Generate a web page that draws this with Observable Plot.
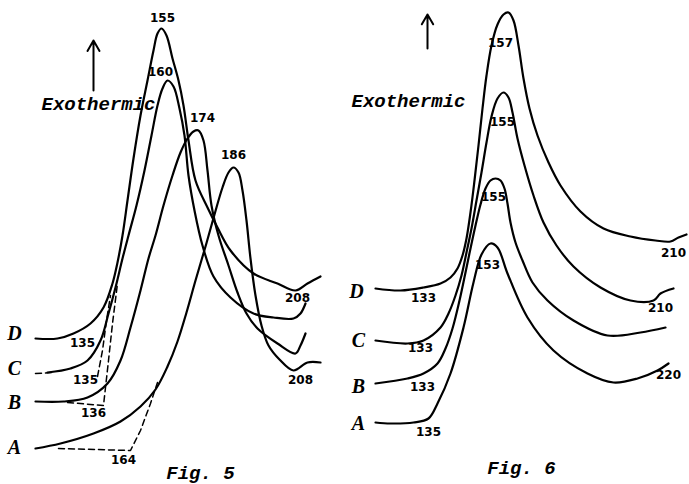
<!DOCTYPE html>
<html>
<head>
<meta charset="utf-8">
<script src="https://cdn.jsdelivr.net/npm/d3@7"></script>
<script src="https://cdn.jsdelivr.net/npm/@observablehq/plot@0.6"></script>
<style>
html,body{margin:0;padding:0;background:#fff;}
#chart svg{display:block;background:#fff;}
</style>
</head>
<body>
<div id="chart"></div>
<script>
// ---- Fig. 5 thermograms (horizontal: trace units, vertical: deflection units, downward positive) ----
const fig5D = [[35,338],[57,338],[73,333],[90,323],[103,307],[112,283],[117,262],[122,235],[127,200],[133,158],[140,115],[147,80],[153,50],[157,33],[161,28],[166,35],[172,58],[178,80],[183,105],[188,140],[195,180],[207,207],[217,227],[230,250],[253,273],[277,283],[295,290],[307,283],[320,276]];
const fig5C = [[47,372],[70,368],[87,360],[100,340],[108,313],[115,287],[122,258],[128,235],[136,205],[144,170],[151,135],[157,105],[162,88],[167,80],[173,86],[179,108],[184,135],[188,175],[194,210],[202,245],[213,276],[230,297],[253,313],[273,317],[293,318],[300,313],[305,303]];
const fig5B = [[35,401],[63,401],[87,397],[107,383],[120,360],[130,327],[140,290],[148,258],[155,235],[163,205],[172,175],[180,152],[187,138],[193,131],[198,130],[203,140],[207,170],[211,205],[218,235],[228,265],[237,292],[246,313],[257,328],[277,343],[295,353],[300,345],[305,333]];
const fig5A = [[35,448],[60,443],[93,433],[120,421],[140,406],[155,389],[167,366],[177,341],[186,312],[195,280],[205,246],[214,214],[222,187],[228,172],[233,167],[238,172],[242,190],[246,220],[250,258],[255,295],[261,325],[268,345],[279,359],[293,370],[307,362],[320,362]];
const fig5Adash = [[58,448],[130,450],[140,430],[150,403],[157,382]];
const fig5Bdash = [[67,402],[103,405],[105,387],[108,360],[112,323],[117,283]];
const fig5Cdash = [[35,373],[53,372]];
const fig5Cdash2 = [[97,376],[102,350],[106,320],[110,295]];

// ---- Fig. 6 thermograms ----
const fig6D = [[375,288],[400,290],[423,287],[440,283],[450,277],[457,268],[462,255],[466,238],[470,212],[474,180],[478,145],[482,108],[486,75],[491,45],[497,24],[503,14],[508,12],[513,20],[518,45],[523,78],[529,108],[537,135],[548,162],[560,185],[580,211],[603,228],[630,236],[655,240],[670,241],[678,237],[686,234]];
const fig6C = [[375,340],[407,343],[423,340],[440,327],[448,313],[455,295],[461,275],[466,252],[471,228],[476,200],[481,172],[486,142],[491,116],[497,98],[503,92],[508,97],[512,112],[517,138],[524,165],[533,195],[543,222],[556,245],[573,266],[600,287],[630,300],[653,300],[660,293],[673,288]];
const fig6B = [[375,383],[407,378],[423,373],[437,363],[445,348],[452,328],[459,300],[465,272],[470,248],[475,225],[480,204],[485,188],[490,180],[495,178],[500,180],[504,188],[507,203],[510,222],[515,242],[522,260],[532,282],[547,300],[573,320],[607,335],[640,332],[665,327]];
const fig6A = [[375,422],[390,423],[413,422],[428,418],[437,403],[450,373],[463,327],[473,282],[481,254],[490,243],[497,247],[507,273],[527,317],[553,350],[587,373],[613,382],[637,378],[657,370],[668,363]];

// ---- temperature annotations (text, x, y) ----
const tempLabels = [
  ["155",162,18],["160",160,72],["174",202,118],["186",233,155],
  ["208",297,298],["208",300,380],["135",82,343],["135",85,380],["136",93,413],["164",123,460],
  ["157",500,43],["155",502,122],["155",493,197],["153",487,265],
  ["133",423,298],["133",420,348],["133",422,387],["135",428,432],
  ["210",673,253],["210",660,308],["220",668,375]
];
// ---- curve letters ----
const curveLetters = [["D",14,333],["C",14,368],["B",14,402],["A",14,447],["D",356,291],["C",358,340],["B",358,386],["A",358,423]];
// ---- titles / captions ----
const captions = [["Exothermic",98,103],["Exothermic",408,100],["Fig. 5",200,472],["Fig. 6",521,467]];
const arrows = [[93,90,93,40],[427,48,427,14]];

const solid = [fig5D,fig5C,fig5B,fig5A,fig6D,fig6C,fig6B,fig6A];
const dashed = [fig5Adash,fig5Bdash,fig5Cdash,fig5Cdash2];

const marks = [];
for (const c of solid) marks.push(Plot.line(c,{x:d=>d[0],y:d=>d[1],curve:"catmull-rom",stroke:"#000",strokeWidth:2.2}));
for (const c of dashed) marks.push(Plot.line(c,{x:d=>d[0],y:d=>d[1],curve:"linear",stroke:"#000",strokeWidth:1.5,strokeDasharray:"6,4"}));
marks.push(Plot.arrow(arrows,{x1:d=>d[0],y1:d=>d[1],x2:d=>d[2],y2:d=>d[3],stroke:"#000",strokeWidth:2,headLength:9}));
marks.push(Plot.text(tempLabels,{x:d=>d[1],y:d=>d[2],text:d=>d[0],fontSize:12,fontWeight:"bold",fontFamily:"DejaVu Sans",fill:"#000"}));
marks.push(Plot.text(curveLetters,{x:d=>d[1],y:d=>d[2],text:d=>d[0],fontSize:20,fontWeight:"bold",fontStyle:"italic",fontFamily:"Liberation Serif",fill:"#000"}));
marks.push(Plot.text(captions,{x:d=>d[1],y:d=>d[2],text:d=>d[0],fontSize:19,fontWeight:"bold",fontStyle:"italic",fontFamily:"Liberation Mono",fill:"#000"}));

const chart = Plot.plot({
  width:689, height:484,
  margin:0,
  x:{domain:[0,689], axis:null},
  y:{domain:[484,0], axis:null},
  style:{background:"#fff", color:"#000"},
  marks
});
document.getElementById("chart").appendChild(chart);
</script>
</body>
</html>
